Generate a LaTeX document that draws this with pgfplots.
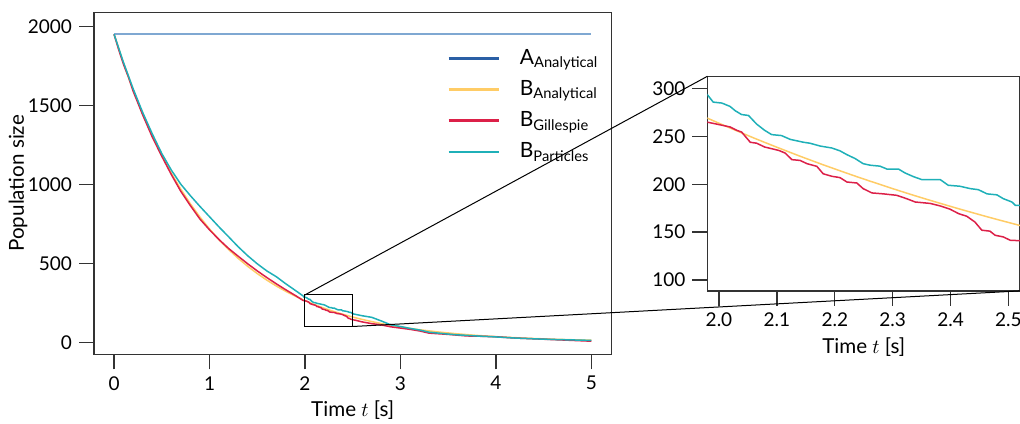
\documentclass[border=0pt]{standalone}
\usepackage{fontspec}
\setmainfont{Lato}
\usepackage{pgfplots}
\pgfplotsset{compat=1.18}
\usepackage{pgfplotstable}

\definecolor{ablue}{HTML}{2A5FA5}
\definecolor{alight}{HTML}{7FA8D2}
\definecolor{byellow}{HTML}{FFCC66}
\definecolor{bred}{HTML}{DC2048}
\definecolor{bcyan}{HTML}{1FB0B8}
\definecolor{frame}{HTML}{333333}

\pgfplotstableread{
t N
0 1950
5 1950
}\aana

\pgfplotstableread{
t N
0 1950
0.1 1764.4
0.2 1596.5
0.3 1444.6
0.4 1307.1
0.5 1182.7
0.6 1070.2
0.7 968.3
0.8 876.2
0.9 792.8
1.0 717.4
1.1 649.1
1.2 587.3
1.3 531.4
1.4 480.9
1.5 435.1
1.6 393.7
1.7 356.2
1.8 322.3
1.9 291.7
1.96 274.7
1.98 269.2
2.00 263.9
2.02 258.7
2.04 253.6
2.06 248.5
2.08 243.6
2.10 238.8
2.12 234.1
2.14 229.4
2.16 224.9
2.18 220.4
2.20 216.1
2.22 211.8
2.24 207.6
2.26 203.5
2.28 199.5
2.30 195.5
2.32 191.6
2.34 187.8
2.36 184.1
2.38 180.5
2.40 176.9
2.42 173.4
2.44 170.0
2.46 166.6
2.48 163.3
2.50 160.1
2.52 156.9
2.54 153.8
2.6 144.8
2.7 131.1
2.8 118.6
2.9 107.3
3.0 97.1
3.2 79.5
3.4 65.1
3.6 53.3
3.8 43.6
4.0 35.7
4.2 29.2
4.4 23.9
4.6 19.6
4.8 16.0
5.0 13.1
}\bana

\pgfplotstableread{
t N
0 1950
0.05 1850
0.1 1758
0.15 1680
0.2 1590
0.3 1440
0.4 1300
0.5 1178
0.6 1062
0.7 955
0.8 865
0.9 780
1.0 712
1.1 650
1.2 594
1.3 545
1.4 497
1.5 452
1.6 410
1.7 370
1.8 332
1.9 296
1.980 265
1.996 263
2.019 260
2.031 256.4
2.039 254.7
2.054 244
2.065 243
2.079 239
2.103 235.5
2.114 232.8
2.126 225.8
2.140 225
2.152 221.6
2.169 218.8
2.180 211
2.195 208.4
2.209 207
2.221 202.4
2.238 201.4
2.249 195.5
2.264 191
2.284 190
2.307 188.5
2.324 185
2.339 181.5
2.365 180
2.382 177.4
2.399 174
2.414 169.3
2.428 166.6
2.442 160.6
2.454 152
2.468 151
2.477 146.7
2.491 145
2.503 141.5
2.520 141
2.6 129
2.7 118
2.78 112
2.9 98
3.0 90
3.1 82
3.2 72
3.3 58
3.4 54
3.5 50
3.6 45
3.7 40
3.8 39
4.0 35
4.2 27
4.4 22
4.6 17
4.8 12
5.0 7
}\gill

\pgfplotstableread{
t N
0 1950
0.1 1770
0.2 1605
0.3 1455
0.4 1320
0.5 1195
0.6 1090
0.7 1000
0.8 928
0.9 860
1.0 795
1.1 730
1.2 668
1.3 605
1.4 548
1.5 497
1.6 452
1.7 415
1.8 370
1.9 328
1.980 293.7
1.990 286
2.005 285
2.019 281.5
2.028 277
2.039 273
2.051 272
2.065 263
2.079 256.4
2.091 252
2.108 251
2.123 247
2.146 244
2.157 243
2.175 240
2.195 238
2.209 235
2.221 231
2.235 227
2.249 221.6
2.261 220
2.278 219
2.290 216
2.310 216
2.321 212
2.336 208
2.350 205
2.382 205
2.396 199
2.416 198
2.434 195.5
2.448 194.4
2.463 190
2.480 189
2.491 185
2.506 181.5
2.512 178
2.520 178
2.6 168
2.7 158
2.8 135
2.9 110
3.0 100
3.1 88
3.2 78
3.3 64
3.4 58
3.5 52
3.6 47
3.8 40
4.0 34
4.2 27
4.4 22
4.6 18
4.8 15
5.0 12
}\part

\pgfplotsset{
  myaxis/.style={
    scale only axis,
    axis line style={frame, line width=0.7pt},
    tick style={frame, line width=0.7pt},
    tick align=outside,
    major tick length=7.5pt,
    tick pos=left,
    font=\fontsize{9.5}{11}\selectfont,
    label style={font=\fontsize{10.3}{12}\selectfont},
    /pgf/number format/assume math mode=true,
    /pgf/number format/1000 sep={},
    scaled ticks=false,
    xlabel style={at={(axis description cs:0.5,0)}, anchor=center, yshift=-28pt},
  }
}

\begin{document}
\begin{tikzpicture}
\begin{axis}[myaxis,
  at={(0,0)}, anchor=south west,
  width=258.7pt, height=171pt,
  xmin=-0.21, xmax=5.21, ymin=-76, ymax=2089,
  xtick={0,1,2,3,4,5}, ytick={0,500,1000,1500,2000},
  xlabel={Time $t$ [s]}, ylabel={Population size},
  ylabel style={at={(axis description cs:-0.147,0.5)}, anchor=center},
  legend style={draw=none, fill=none, inner sep=0pt, at={(axis description cs:0.682,0.905)}, anchor=north west, column sep=8pt, row sep=2.6pt, font=\fontsize{10.5}{12}\selectfont},
  legend cell align=left,
  legend image code/.code={\draw[#1] (0pt,0pt) -- (25pt,0pt);},
]
\addlegendimage{ablue, line width=1.3pt}
\addlegendentry{A\textsubscript{Analytical}}
\addlegendimage{byellow, line width=1.3pt}
\addlegendentry{B\textsubscript{Analytical}}
\addlegendimage{bred, line width=1.3pt}
\addlegendentry{B\textsubscript{Gillespie}}
\addlegendimage{bcyan, line width=1.3pt}
\addlegendentry{B\textsubscript{Particles}}
\addplot[forget plot, alight, line width=0.9pt] table[x=t,y=N] {\aana};
\addplot[forget plot, byellow, line width=0.75pt] table[x=t,y=N] {\bana};
\addplot[forget plot, bred, line width=0.75pt] table[x=t,y=N] {\gill};
\addplot[forget plot, bcyan, line width=0.75pt] table[x=t,y=N] {\part};
\draw[black, line width=0.5pt] (axis cs:2,100) rectangle (axis cs:2.5,300);
\coordinate (zA) at (axis cs:2,300);
\coordinate (zB) at (axis cs:2.5,100);
\end{axis}
\begin{axis}[myaxis,
  at={(306.7pt,31.7pt)}, anchor=south west,
  width=156.3pt, height=107.3pt,
  xmin=1.98, xmax=2.52, ymin=88.5, ymax=313,
  xtick={2.0,2.1,2.2,2.3,2.4,2.5}, ytick={100,150,200,250,300},
  xticklabel style={/pgf/number format/fixed, /pgf/number format/fixed zerofill, /pgf/number format/precision=1},
  xlabel={Time $t$ [s]},
]
\addplot[byellow, line width=0.75pt] table[x=t,y=N] {\bana};
\addplot[bred, line width=0.75pt] table[x=t,y=N] {\gill};
\addplot[bcyan, line width=0.75pt] table[x=t,y=N] {\part};
\coordinate (iA) at (rel axis cs:0,1);
\coordinate (iB) at (rel axis cs:1,0);
\end{axis}
\draw[black, line width=0.5pt] (zA) -- (iA);
\draw[black, line width=0.5pt] (zB) -- (iB);
\pgfresetboundingbox
\useasboundingbox (-47pt,-34.35pt) rectangle (463pt,177.15pt);
\end{tikzpicture}
\end{document}
